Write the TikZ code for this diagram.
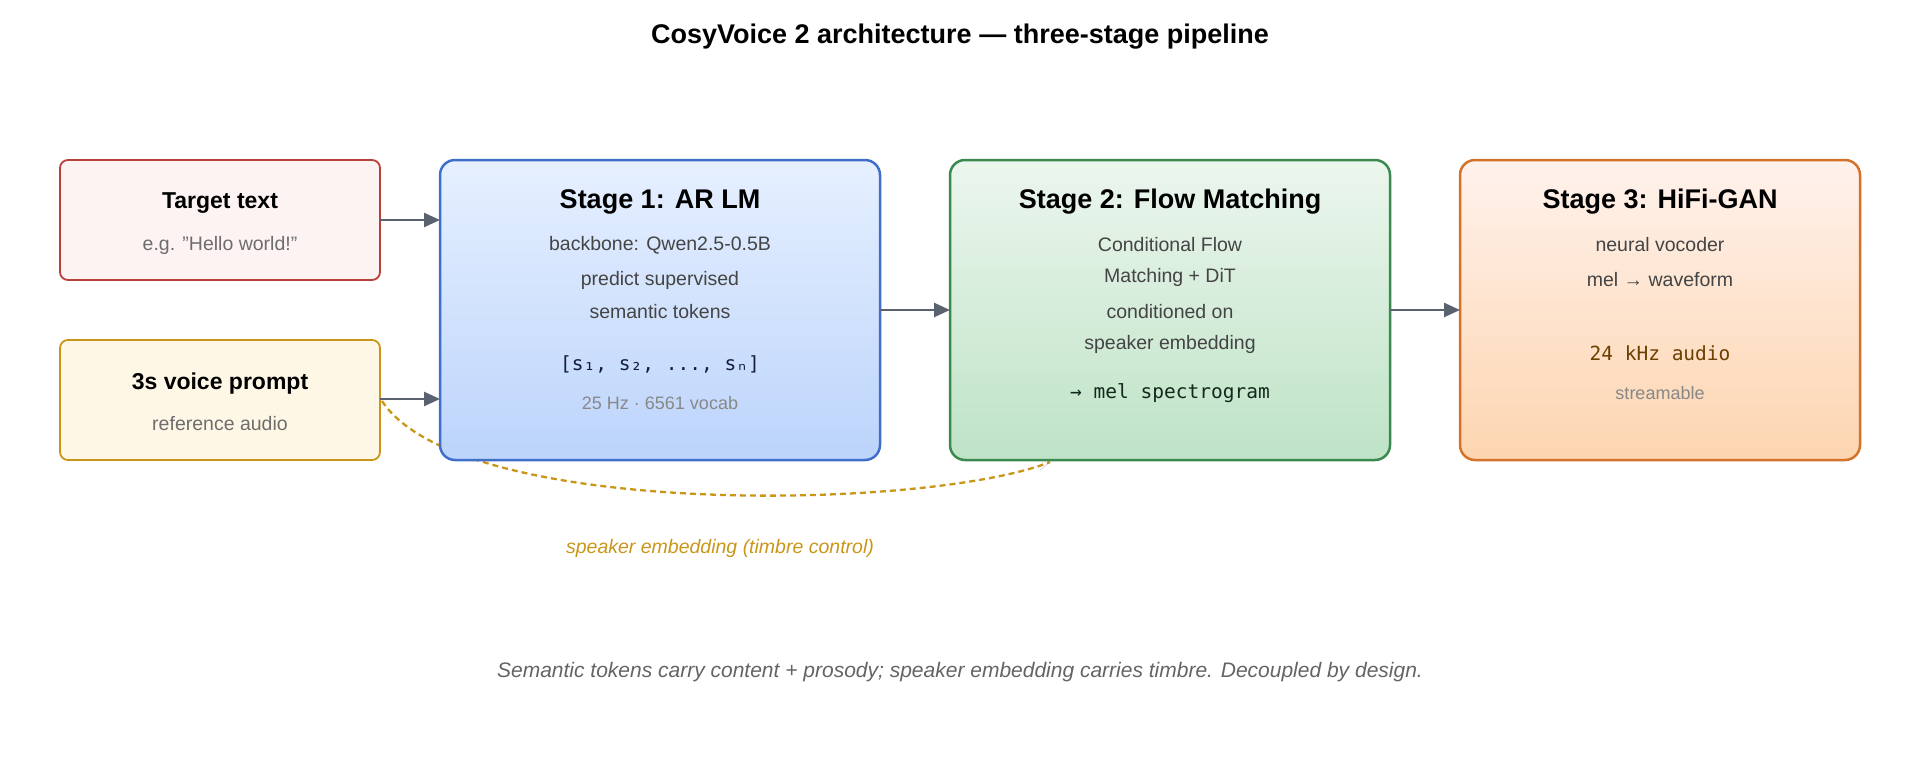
\documentclass[tikz,border=0pt]{standalone}
\usepackage{fontspec}
\setmainfont{Liberation Sans}
\newfontfamily\monof{DejaVu Sans Mono}
\usetikzlibrary{arrows.meta,calc}
\definecolor{arrowgray}{HTML}{5A6270}
\definecolor{gold}{HTML}{C9961A}
\definecolor{txt}{HTML}{444444}
\definecolor{lgray}{HTML}{888888}
\tikzset{x=1pt,y=-1pt,
 box/.style={rounded corners=15pt,line width=2.5pt,inner sep=0pt},
 arr/.style={-{Triangle[length=16pt,width=14pt]},line width=2.5pt,draw=arrowgray},
 ttl/.style={font=\fontsize{27}{30}\selectfont\bfseries},
 bd/.style={font=\fontsize{19.5}{22}\selectfont,text=txt},
}
\begin{document}
\begin{tikzpicture}
\useasboundingbox (0,0) rectangle (1920,760);
\node[font=\fontsize{27}{30}\selectfont\bfseries] (title) at (960,37) {CosyVoice 2 architecture — three-stage pipeline};
% dashed curve behind
\coordinate (dstart) at (382,401);
\coordinate (dend) at (1050,462);
\draw[gold,line width=2.3pt,dash pattern=on 6pt off 4pt] (dstart) .. controls (460,520) and (930,510) .. (dend);
% inputs
\draw[rounded corners=8pt,draw={rgb,255:red,184;green,65;blue,60},fill={rgb,255:red,253;green,243;blue,242},line width=1.8pt] (60,160) rectangle (380,280);
\node[font=\fontsize{23}{26}\selectfont\bfseries] (tt) at (220,203) {Target text};
\node[bd,text=lgray!80!black] (tt2) at (220,245) {e.g. "Hello world!"};
\draw[rounded corners=8pt,draw=gold,fill={rgb,255:red,255;green,247;blue,230},line width=1.8pt] (60,340) rectangle (380,460);
\node[font=\fontsize{23}{26}\selectfont\bfseries] (vp) at (220,384) {3s voice prompt};
\node[bd,text=lgray!80!black] (vp2) at (220,424) {reference audio};
% stages
\draw[box,draw={rgb,255:red,63;green,111;blue,200},top color={rgb,255:red,230;green,240;blue,255},bottom color={rgb,255:red,188;green,212;blue,251}] (440,160) rectangle (880,460);
\draw[box,draw={rgb,255:red,58;green,138;blue,80},top color={rgb,255:red,236;green,246;blue,238},bottom color={rgb,255:red,190;green,227;blue,198}] (950,160) rectangle (1390,460);
\draw[box,draw={rgb,255:red,212;green,114;blue,42},top color={rgb,255:red,255;green,242;blue,236},bottom color={rgb,255:red,253;green,213;blue,176}] (1460,160) rectangle (1860,460);
\coordinate (s1l) at (440,310); \coordinate (s1r) at (880,310);
\coordinate (s2l) at (950,310); \coordinate (s2r) at (1390,310);
\coordinate (s3l) at (1460,310);
% stage 1 text
\node[ttl] (a1) at (660,202) {Stage 1: AR LM};
\node[bd] (a2) at (660,245) {backbone: Qwen2.5-0.5B};
\node[bd] (a3) at (660,280) {predict supervised};
\node[bd] (a4) at (660,312) {semantic tokens};
\node[font=\monof\fontsize{19.5}{22}\selectfont,text={rgb,255:red,20;green,30;blue,60}] (a5) at (660,364) {[s₁, s₂, ..., sₙ]};
\node[bd,text=lgray,font=\fontsize{18}{20}\selectfont] (a6) at (660,403) {25 Hz · 6561 vocab};
% stage 2
\node[ttl] (b1) at (1170,202) {Stage 2: Flow Matching};
\node[bd] (b2) at (1170,245) {Conditional Flow};
\node[bd] (b3) at (1170,277) {Matching + DiT};
\node[bd] (b4) at (1170,312) {conditioned on};
\node[bd] (b5) at (1170,344) {speaker embedding};
\node[font=\monof\fontsize{19.5}{22}\selectfont,text={rgb,255:red,20;green,40;blue,30}] (b6) at (1170,393) {→ mel spectrogram};
% stage 3
\node[ttl] (c1) at (1660,202) {Stage 3: HiFi-GAN};
\node[bd] (c2) at (1660,245) {neural vocoder};
\node[bd] (c3) at (1660,280) {mel → waveform};
\node[font=\monof\fontsize{19.5}{22}\selectfont,text={rgb,255:red,107;green,64;blue,0}] (c4) at (1660,353) {24 kHz audio};
\node[bd,text=lgray,font=\fontsize{18}{20}\selectfont] (c5) at (1660,393) {streamable};
% arrows
\coordinate (t1) at (380,220); \coordinate (t2) at (440,220);
\coordinate (v1) at (380,399); \coordinate (v2) at (440,399);
\draw[arr] (t1) -- (t2);
\draw[arr] (v1) -- (v2);
\draw[arr] (s1r) -- (s2l);
\draw[arr] (s2r) -- (s3l);
\draw[-{Triangle[length=14pt,width=16pt]},draw=none,fill=arrowgray] ($(dend)+(-10,8)$) -- (dend);
\node[font=\fontsize{19.5}{22}\selectfont\itshape,text=gold] (cap) at (720,548) {speaker embedding (timbre control)};
\node[font=\fontsize{21}{24}\selectfont\itshape,text={rgb,255:red,100;green,100;blue,100}] (foot) at (960,672) {Semantic tokens carry content + prosody; speaker embedding carries timbre. Decoupled by design.};
\end{tikzpicture}
\end{document}
